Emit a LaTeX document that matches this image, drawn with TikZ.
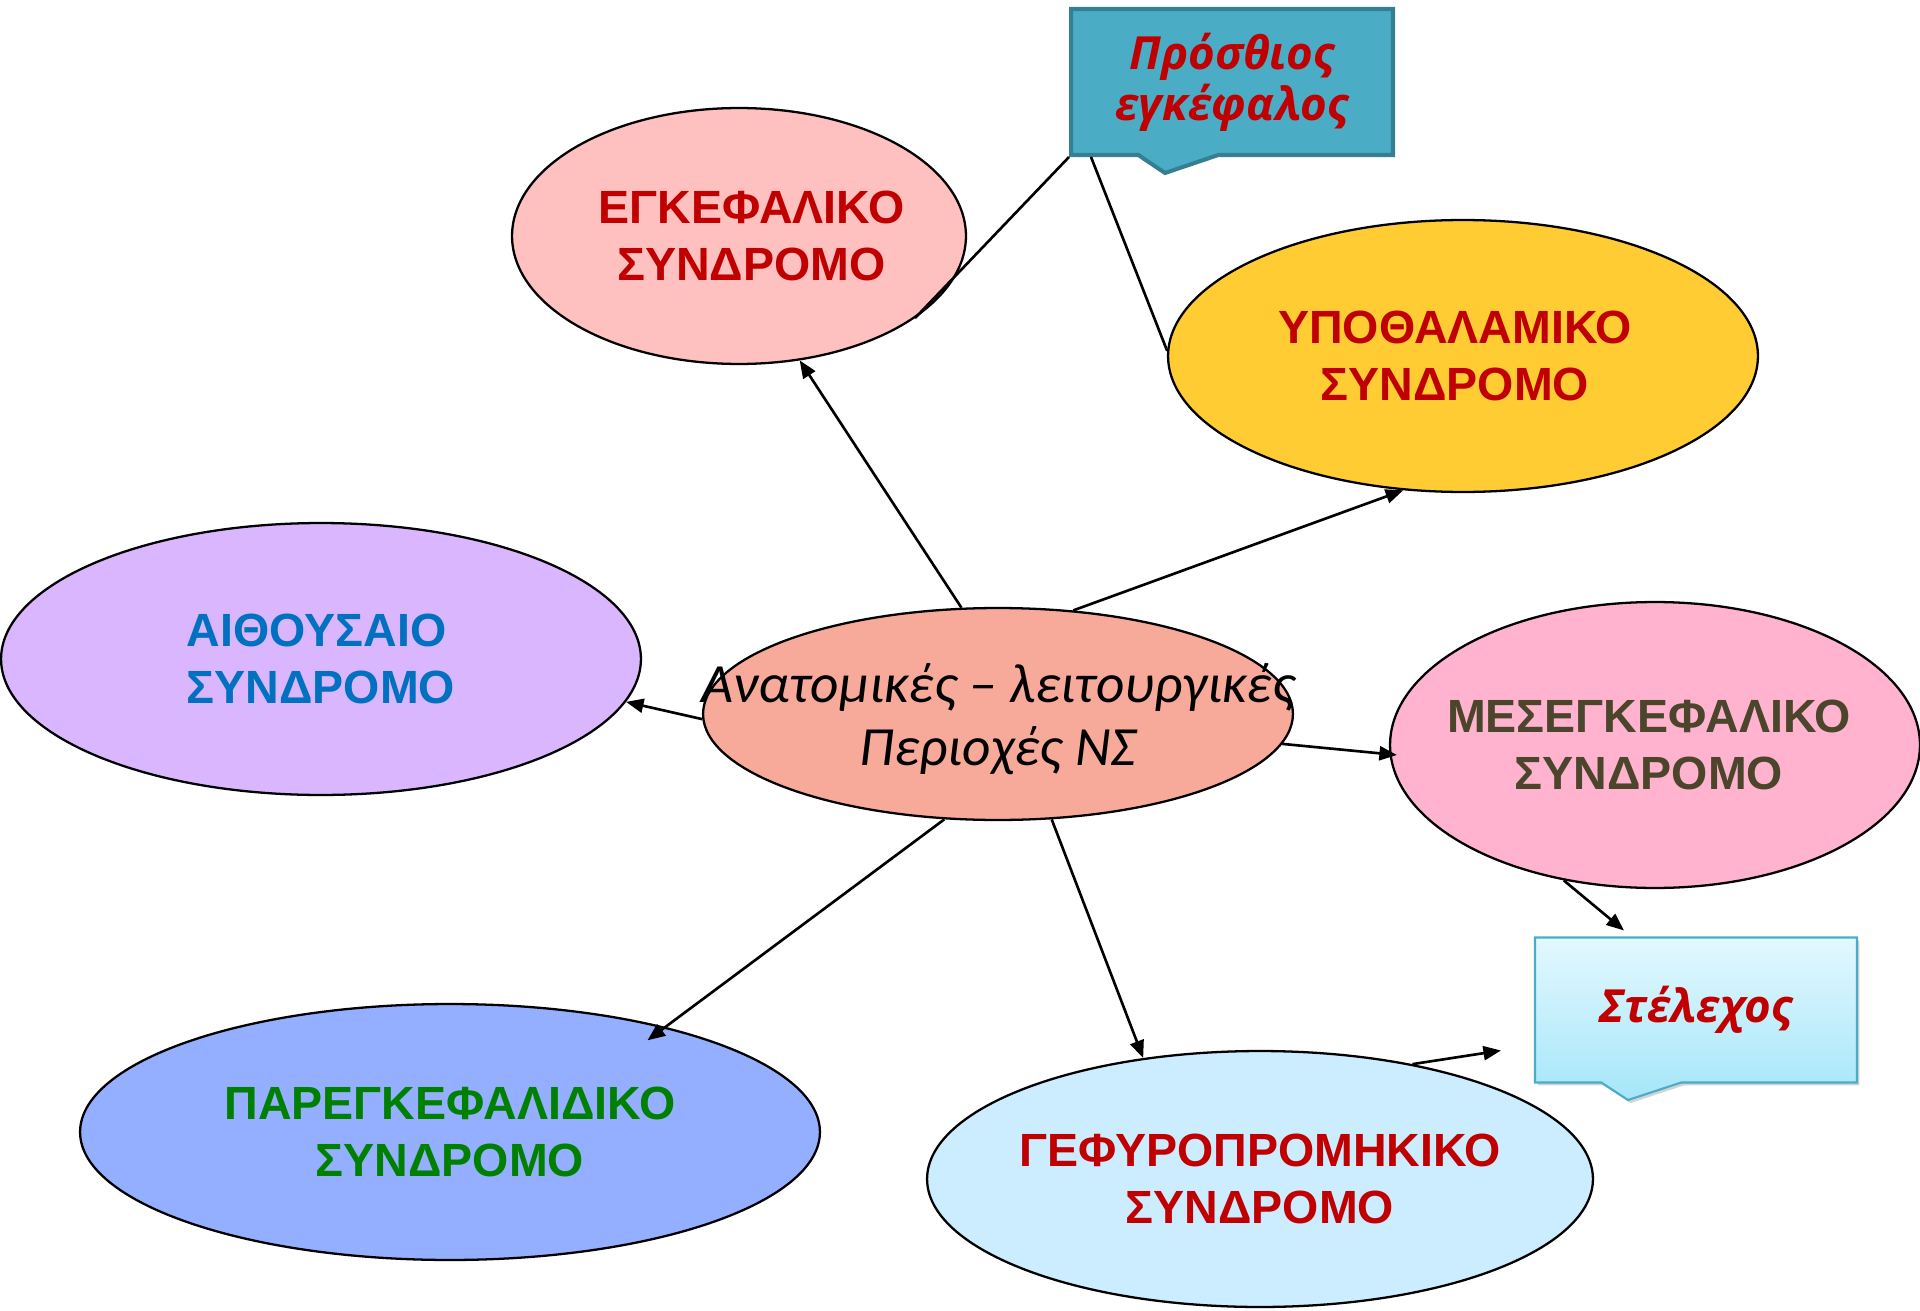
\documentclass[tikz,border=0pt]{standalone}
\usepackage{fontspec}
\setmainfont{Liberation Sans}
\newfontfamily\synfont{Liberation Sans}[UprightFont=* Bold]
\newfontfamily\centerfont{Carlito}
\newfontfamily\calloutfont{Open Sans}
\usetikzlibrary{shapes.geometric,shapes.callouts,shadows,arrows.meta}

\definecolor{synRed}{RGB}{192,0,0}
\definecolor{synBlue}{RGB}{0,112,192}
\definecolor{synGreen}{RGB}{0,128,0}
\definecolor{synOlive}{RGB}{75,69,44}
\definecolor{egkFill}{RGB}{255,192,192}
\definecolor{ypoFill}{RGB}{255,204,51}
\definecolor{aithFill}{RGB}{218,182,255}
\definecolor{centerFill}{RGB}{247,170,153}
\definecolor{mesFill}{RGB}{255,179,206}
\definecolor{parFill}{RGB}{148,175,255}
\definecolor{gefFill}{RGB}{204,236,255}
\definecolor{prosFill}{RGB}{75,172,198}
\definecolor{prosLine}{RGB}{53,127,147}
\definecolor{stelTop}{RGB}{227,248,254}
\definecolor{stelBottom}{RGB}{165,230,249}

\begin{document}
\begin{tikzpicture}[x=0.02cm, y=-0.02cm,
	syn/.style={ellipse, draw, line width=1.3pt, inner sep=0pt},
	synlabel/.style={font=\synfont\fontsize{26.5}{32.4}\selectfont, align=center},
	arr/.style={line width=1.5pt, -{Triangle[length=10pt,width=8pt]}},
	lnk/.style={line width=1.5pt},
	calloutText/.style={font=\calloutfont\fontsize{26}{29}\selectfont\bfseries\itshape, text=synRed, align=center}]
		
		\useasboundingbox (0,0) rectangle (1920,1311);
		
		% Syndromes
		
		\node[syn, fill=egkFill, minimum width=9.08cm, minimum height=5.12cm,
		label={[synlabel, text=synRed, xshift=0.25cm]center:ΕΓΚΕΦΑΛΙΚΟ\\ΣΥΝΔΡΟΜΟ}]
		(egk) at (739,236) {};
		
		\node[syn, fill=ypoFill, minimum width=11.8cm, minimum height=5.44cm,
		label={[synlabel, text=synRed, xshift=-0.16cm]center:ΥΠΟΘΑΛΑΜΙΚΟ\\ΣΥΝΔΡΟΜΟ}]
		(ypo) at (1463,356) {};
		
		\node[syn, fill=aithFill, minimum width=12.8cm, minimum height=5.44cm,
		label={[synlabel, text=synBlue, align=left]center:ΑΙΘΟΥΣΑΙΟ\\ΣΥΝΔΡΟΜΟ}]
		(aith) at (321,659) {};
		
		\node[syn, fill=centerFill, minimum width=11.8cm, minimum height=4.24cm,
		label={[font=\centerfont\fontsize{31.5}{36}\selectfont\itshape, align=center, yshift=-0.1cm]center:Ανατομικές – λειτουργικές\\Περιοχές ΝΣ}]
		(center) at (998,714) {};
		
		\node[syn, fill=mesFill, minimum width=10.6cm, minimum height=5.72cm,
		label={[synlabel, text=synOlive, xshift=-0.12cm]center:ΜΕΣΕΓΚΕΦΑΛΙΚΟ\\ΣΥΝΔΡΟΜΟ}]
		(mes) at (1655,745) {};
		
		\node[syn, fill=parFill, minimum width=14.8cm, minimum height=5.12cm,
		label={[synlabel, text=synGreen]center:ΠΑΡΕΓΚΕΦΑΛΙΔΙΚΟ\\ΣΥΝΔΡΟΜΟ}]
		(par) at (450,1132) {};
		
		\node[syn, fill=gefFill, minimum width=13.32cm, minimum height=5.12cm,
		label={[synlabel, text=synRed]center:ΓΕΦΥΡΟΠΡΟΜΗΚΙΚΟ\\ΣΥΝΔΡΟΜΟ}]
		(gef) at (1260,1179) {};
		
		% Callouts
		
		\node[rectangle callout, draw=prosLine, line width=2.3pt, fill=prosFill,
		minimum width=6.44cm, minimum height=2.92cm, inner sep=0pt,
		callout absolute pointer={(1165,173)}, callout pointer width=1.6cm, calloutText]
		(pros) at (1232,82) {Πρόσθιος\\εγκέφαλος};
		
		\node[rectangle callout, draw=prosFill, line width=1.2pt, top color=stelTop, bottom color=stelBottom,
		drop shadow={opacity=0.35, shadow xshift=0.05cm, shadow yshift=-0.06cm},
		minimum width=6.44cm, minimum height=2.9cm, inner sep=0pt,
		callout absolute pointer={(1628,1100)}, callout pointer width=1.6cm, calloutText]
		(stel) at (1696,1010) {Στέλεχος};
		
		% Arrows
		
		\draw[arr] (center.109) -- (egk.-64);
		
		\draw[arr] (center.54) -- (ypo.246);
		
		\draw[arr] (center.181) -- (aith.352);
		
		\draw[arr, shorten >=-0.15cm] (center.-6) -- (mes.182);
		
		\draw[arr, shorten >=-0.45cm] (center.243) -- (par.26);
		
		\draw[arr] (center.297) -- (gef.134);
		
		\draw[arr] (mes.236) -- ([xshift=-1.44cm, yshift=0.12cm]stel.north);
		
		\draw[arr] (gef.37) -- ([xshift=-0.66cm, yshift=-0.81cm]stel.west);
		
		% Callout lines
		
		\draw[lnk] (pros.south west) -- (egk.335);
		
		\draw[lnk] ([xshift=0.44cm]pros.south west) -- (ypo.179);
		
	\end{tikzpicture}
\end{document}
